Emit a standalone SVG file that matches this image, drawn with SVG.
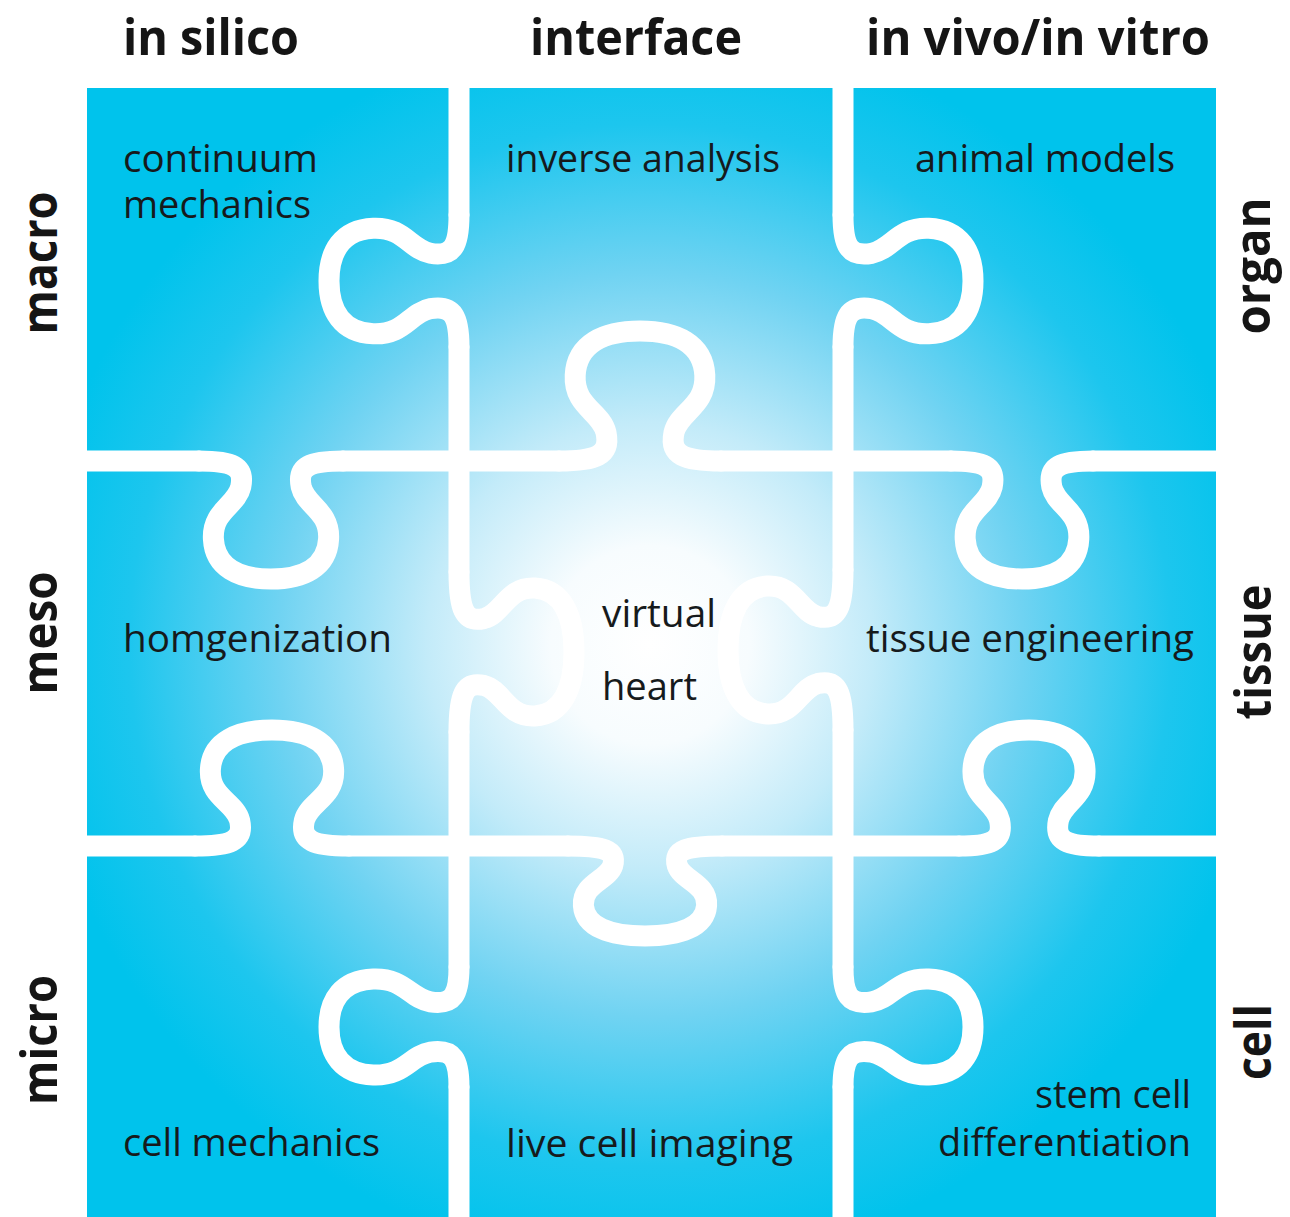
<svg xmlns="http://www.w3.org/2000/svg" width="1290" height="1217" viewBox="0 0 1290 1217">
  <defs>
    <radialGradient id="glow" gradientUnits="userSpaceOnUse" cx="650" cy="645" r="620">
      <stop offset="0" stop-color="#ffffff"/>
      <stop offset="0.16" stop-color="#f7fcfe"/>
      <stop offset="0.36" stop-color="#c3ebf9"/>
      <stop offset="0.6" stop-color="#70d3f2"/>
      <stop offset="0.84" stop-color="#1dc6ee"/>
      <stop offset="1" stop-color="#00c3ec"/>
    </radialGradient>
    <!-- unit jigsaw tab: base from x=-1..1 on y=0, round head reaching y=-1 -->
    <path id="knob" vector-effect="non-scaling-stroke"
          d="M -1 0 C -0.55 0 -0.36 -0.04 -0.42 -0.22 C -0.48 -0.38 -0.82 -0.42 -0.8 -0.66 C -0.78 -0.9 -0.45 -1.0 0 -1.0 C 0.45 -1.0 0.78 -0.9 0.8 -0.66 C 0.82 -0.42 0.48 -0.38 0.42 -0.22 C 0.36 -0.04 0.55 0 1 0"/>
    <style>
      .cut { fill: none; stroke: #ffffff; stroke-width: 21; stroke-linecap: round; stroke-linejoin: round; }
      .head { font-family: "Open Sans", "Liberation Sans", sans-serif; font-weight: 700; font-size: 51px; fill: #151515; }
      .lbl { font-family: "Open Sans", "Liberation Sans", sans-serif; font-weight: 400; font-size: 38px; fill: #161a1c; }
    </style>
  </defs>

  <rect width="1290" height="1217" fill="#ffffff"/>

  <!-- puzzle board -->
  <rect id="board" x="87" y="88" width="1129" height="1140" fill="url(#glow)"/>

  <!-- cuts between the pieces -->
  <g id="connectors" class="cut">
    <path d="M459 60 V215 M459 347 V572 M459 732 V967 M459 1087 V1230"/>
    <path d="M843 60 V215 M843 347 V570 M843 730 V967 M843 1087 V1230"/>
    <path d="M60 461 H199 M343 461 H559 M721 461 H951 M1093 461 H1240"/>
    <path d="M60 846 H195 M349 846 H568 M722 846 H959 M1099 846 H1240"/>
    <use href="#knob" transform="translate(459 281) rotate(-90) scale(66 130)"/>
    <use href="#knob" transform="translate(843 281) rotate(90) scale(66 130)"/>
    <use href="#knob" transform="translate(640 461) scale(81 130)"/>
    <use href="#knob" transform="translate(271 461) rotate(180) scale(72 118)"/>
    <use href="#knob" transform="translate(1022 461) rotate(180) scale(71 118)"/>
    <use href="#knob" transform="translate(459 652) rotate(90) scale(80 115)"/>
    <use href="#knob" transform="translate(843 650) rotate(-90) scale(80 115)"/>
    <use href="#knob" transform="translate(272 846) scale(77 116)"/>
    <use href="#knob" transform="translate(1029 846) scale(70 116)"/>
    <use href="#knob" transform="translate(645 846) rotate(180) scale(77 90)"/>
    <use href="#knob" transform="translate(459 1027) rotate(-90) scale(60 130)"/>
    <use href="#knob" transform="translate(843 1027) rotate(90) scale(60 130)"/>
  </g>

  <!-- column headings -->
  <g id="columns" class="head">
    <text x="123" y="55" textLength="176" lengthAdjust="spacingAndGlyphs">in silico</text>
    <text x="530" y="55" textLength="212" lengthAdjust="spacingAndGlyphs">interface</text>
    <text x="866" y="55" textLength="344" lengthAdjust="spacingAndGlyphs">in vivo/in vitro</text>
  </g>

  <!-- row headings, left -->
  <g id="scales" class="head" text-anchor="middle">
    <text transform="translate(57 263) rotate(-90)" textLength="143" lengthAdjust="spacingAndGlyphs">macro</text>
    <text transform="translate(57 633) rotate(-90)" textLength="123" lengthAdjust="spacingAndGlyphs">meso</text>
    <text transform="translate(57 1040) rotate(-90)" textLength="130" lengthAdjust="spacingAndGlyphs">micro</text>
  </g>

  <!-- row headings, right -->
  <g id="levels" class="head" text-anchor="middle">
    <text transform="translate(1270 266) rotate(-90)" textLength="137" lengthAdjust="spacingAndGlyphs">organ</text>
    <text transform="translate(1271 652) rotate(-90)" textLength="135" lengthAdjust="spacingAndGlyphs">tissue</text>
    <text transform="translate(1271 1042) rotate(-90)" textLength="76" lengthAdjust="spacingAndGlyphs">cell</text>
  </g>

  <!-- piece labels -->
  <g id="piece-continuum" class="lbl">
    <text x="123" y="172" textLength="195" lengthAdjust="spacingAndGlyphs">continuum</text>
    <text x="123" y="218" textLength="188" lengthAdjust="spacingAndGlyphs">mechanics</text>
  </g>
  <g id="piece-inverse" class="lbl">
    <text x="506" y="172" textLength="274" lengthAdjust="spacingAndGlyphs">inverse analysis</text>
  </g>
  <g id="piece-animal" class="lbl">
    <text x="915" y="172" textLength="260" lengthAdjust="spacingAndGlyphs">animal models</text>
  </g>
  <g id="piece-homgenization" class="lbl">
    <text x="123" y="652" textLength="269" lengthAdjust="spacingAndGlyphs">homgenization</text>
  </g>
  <g id="piece-virtual-heart" class="lbl">
    <text x="602" y="627" textLength="114" lengthAdjust="spacingAndGlyphs">virtual</text>
    <text x="602" y="700" textLength="95" lengthAdjust="spacingAndGlyphs">heart</text>
  </g>
  <g id="piece-tissue-eng" class="lbl">
    <text x="866" y="652" textLength="328" lengthAdjust="spacingAndGlyphs">tissue engineering</text>
  </g>
  <g id="piece-cell-mech" class="lbl">
    <text x="123" y="1156" textLength="257" lengthAdjust="spacingAndGlyphs">cell mechanics</text>
  </g>
  <g id="piece-live-cell" class="lbl">
    <text x="506" y="1157" textLength="287" lengthAdjust="spacingAndGlyphs">live cell imaging</text>
  </g>
  <g id="piece-stem-cell" class="lbl">
    <text x="1035" y="1108" textLength="156" lengthAdjust="spacingAndGlyphs">stem cell</text>
    <text x="938" y="1156" textLength="253" lengthAdjust="spacingAndGlyphs">differentiation</text>
  </g>
</svg>
